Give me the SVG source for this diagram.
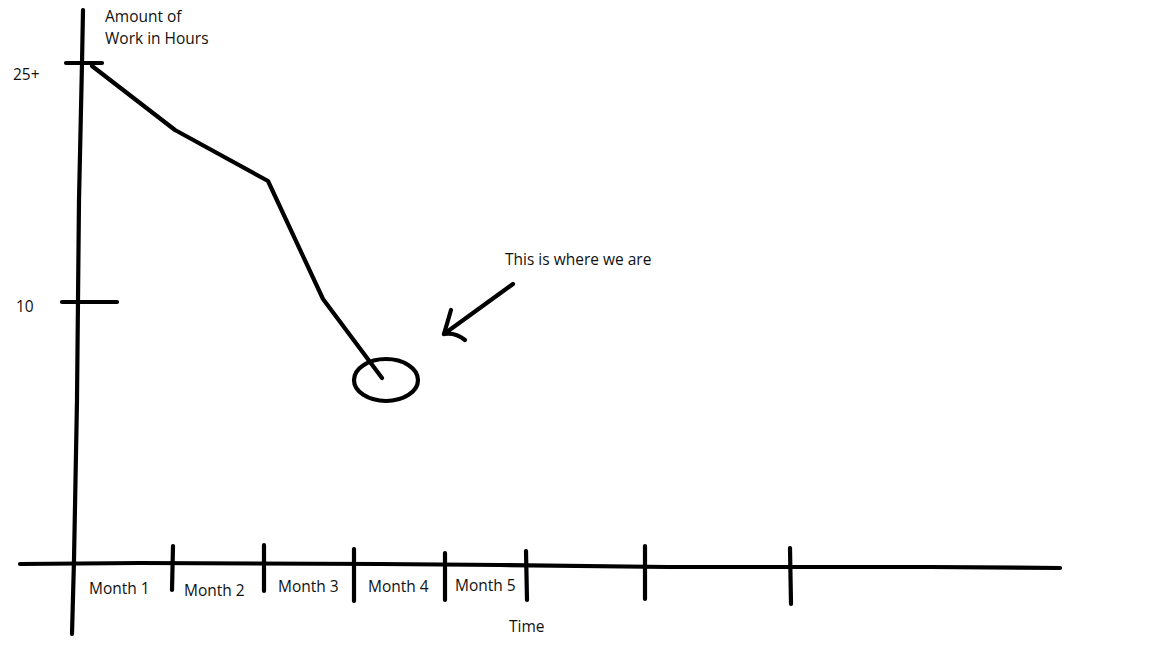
<svg xmlns="http://www.w3.org/2000/svg" width="1152" height="648" viewBox="0 0 1152 648">
<style>
.s{fill:none;stroke:#000;stroke-width:4.2;stroke-linecap:round;stroke-linejoin:round}
.t{font-family:"Open Sans","Noto Sans",sans-serif;font-size:15.5px;fill:#111}
</style>
<rect width="1152" height="648" fill="#fff"/>
<g id="axes">
<polyline class="s" points="83,10 82,63 79,200 77,400 74,560 72,634"/>
<polyline class="s" points="20,564 140,563 380,564 500,565 668,567 930,567 1060,568"/>
<line class="s" x1="66" y1="63" x2="102" y2="63"/>
<line class="s" x1="62" y1="302" x2="117" y2="302"/>
<line class="s" x1="173" y1="546" x2="172" y2="590"/>
<line class="s" x1="264" y1="545" x2="264" y2="591"/>
<line class="s" x1="354" y1="549" x2="354" y2="601"/>
<line class="s" x1="445" y1="553" x2="445" y2="600"/>
<line class="s" x1="526" y1="551" x2="527" y2="600"/>
<line class="s" x1="645" y1="546" x2="645" y2="599"/>
<line class="s" x1="790" y1="548" x2="791" y2="604"/>
</g>
<g id="labels">
<text class="t" x="105" y="22">Amount of</text>
<text class="t" x="105" y="44">Work in Hours</text>
<text class="t" x="13" y="80">25+</text>
<text class="t" x="16" y="312">10</text>
<text class="t" x="89" y="594">Month 1</text>
<text class="t" x="184" y="596">Month 2</text>
<text class="t" x="278" y="592">Month 3</text>
<text class="t" x="368" y="592">Month 4</text>
<text class="t" x="455" y="591">Month 5</text>
<text class="t" x="509" y="632">Time</text>
</g>
<g id="trend">
<polyline class="s" points="92,66 175,130 268,181 323,299 382,378"/>
</g>
<g id="current">
<ellipse class="s" cx="386" cy="380" rx="32" ry="21"/>
</g>
<g id="callout">
<text class="t" x="505" y="265">This is where we are</text>
<line class="s" x1="513" y1="284" x2="444" y2="334"/>
<path class="s" d="M451,310 L444,334 Q455,332 465,340"/>
</g>
</svg>
